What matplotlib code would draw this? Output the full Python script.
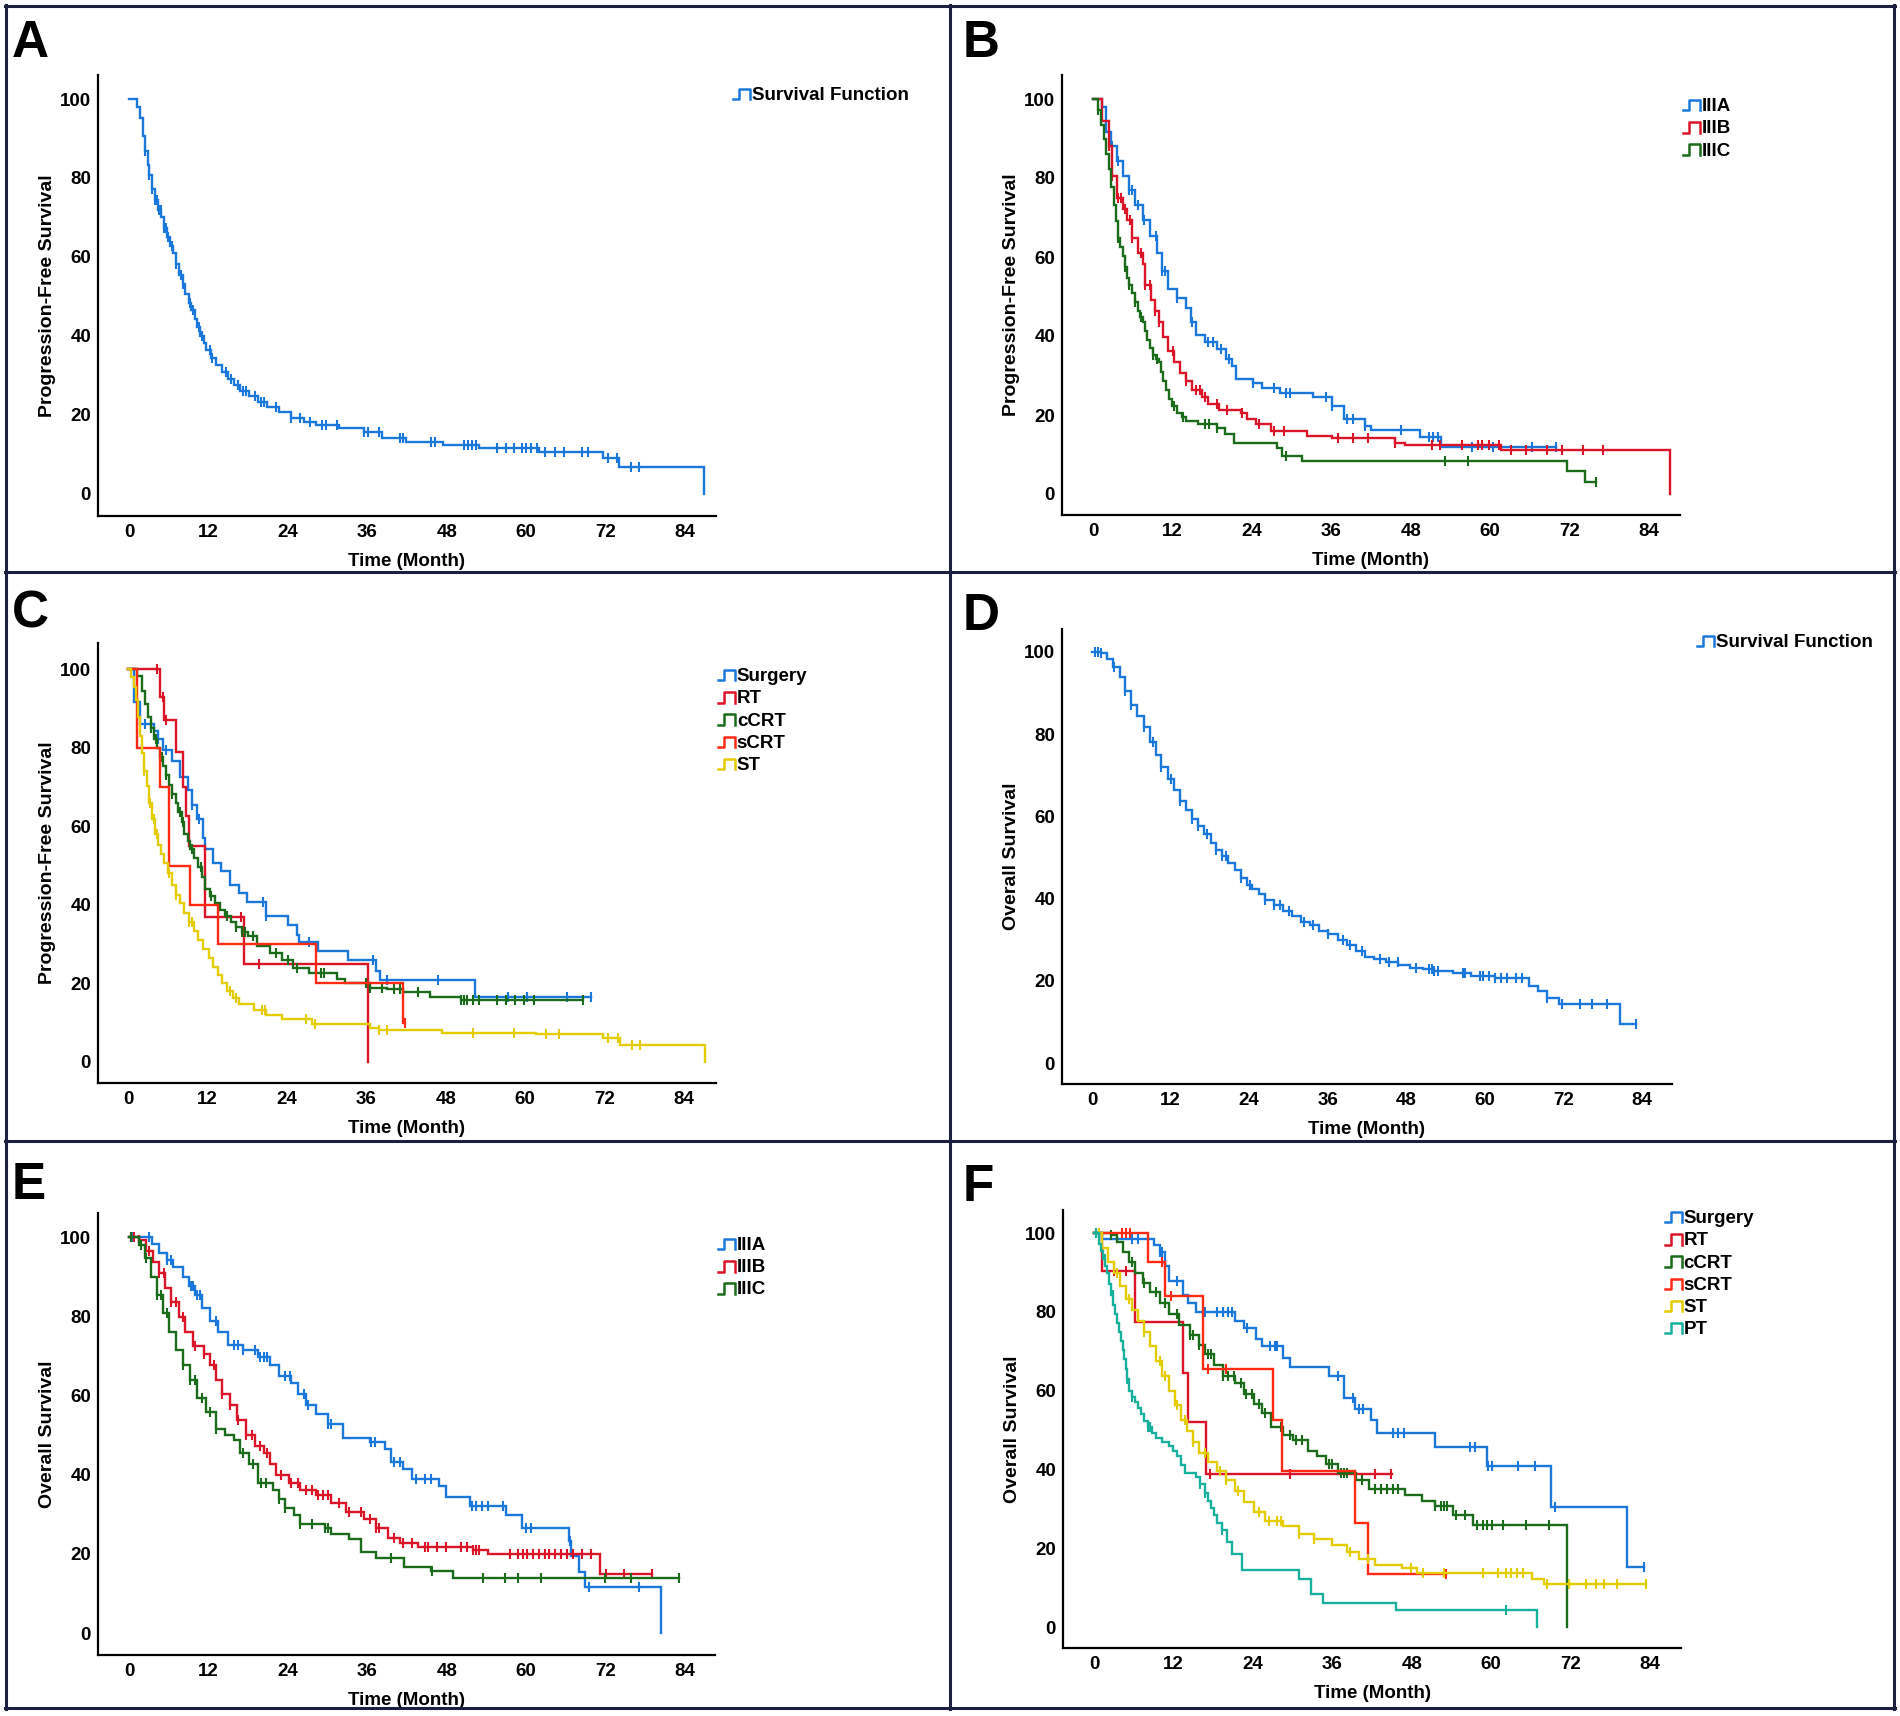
import numpy as np
import matplotlib
matplotlib.use("Agg")
import matplotlib.pyplot as plt
from matplotlib.lines import Line2D
from matplotlib.legend_handler import HandlerBase

plt.rcParams['font.family'] = ['Liberation Sans', 'DejaVu Sans']
plt.rcParams['font.weight'] = 'bold'

W, H = 1900, 1716

# ---------------- DATA ----------------
XTICKS = [0, 12, 24, 36, 48, 60, 72, 84]
YTICKS = [0, 20, 40, 60, 80, 100]

# Panel A  (PFS, all patients)
A_T = [0, 1.2, 1.7, 2.1, 2.4, 2.8, 3.0, 3.5, 3.9, 4.4, 4.9, 5.3, 5.8, 6.2, 6.7, 7.1, 7.6, 8.1, 8.5, 9.0,
       9.4, 9.9, 10.3, 10.8, 11.3, 11.7, 12.4, 13.1, 14.0, 14.9, 15.8, 16.7, 18.1, 19.5, 20.9, 22.7, 24.5,
       26.4, 28.2, 31.8, 35.5, 38.2, 41.9, 47.4, 52.9, 62.0, 71.6, 74.1, 86.9]
A_S = [100, 98.0, 95.2, 90.6, 86.9, 83.2, 80.8, 77.1, 74.4, 72.0, 70.2, 67.4, 65.1, 62.8, 60.9, 58.2, 55.4,
       53.1, 50.7, 48.4, 46.6, 44.3, 42.4, 40.1, 38.2, 36.4, 34.5, 32.7, 30.8, 29.0, 27.6, 26.2, 24.8, 23.4,
       22.0, 20.7, 19.3, 18.3, 17.4, 16.7, 15.6, 14.2, 13.2, 12.3, 11.7, 10.7, 9.1, 6.9, 0]
A_C = [2.4, 3.0, 3.5, 3.9, 4.2, 4.6, 4.8, 5.3, 5.6, 5.9, 6.5, 7.1, 7.8, 8.1, 9.2, 9.7, 10.6, 11.0, 12.2, 12.6,
       14.6, 15.4, 16.5, 17.2, 17.7, 19.0, 19.9, 20.4, 22.2, 24.5, 25.9, 27.3, 29.1, 29.8, 31.4, 35.5, 36.1,
       37.8, 41.0, 41.4, 45.6, 46.3, 50.6, 51.2, 51.8, 52.4, 55.6, 57.0, 58.2, 59.3, 60.0, 60.7, 61.6, 62.9,
       64.3, 65.7, 68.4, 69.4, 72.4, 73.7, 75.8, 77.0]

# Panel B  (PFS by stage)
B_IIIA_T = [0, 1.3, 2.0, 2.7, 3.6, 4.5, 5.4, 6.3, 7.5, 8.6, 9.7, 10.4, 11.4, 12.7, 14.1, 14.8, 15.5, 16.9,
            18.7, 20.1, 21.0, 21.6, 24.2, 25.6, 28.3, 33.3, 36.1, 37.9, 41.1, 42.0, 49.4, 52.6, 70.0]
B_IIIA_S = [100, 98.1, 91.7, 88.0, 84.3, 80.6, 76.9, 73.1, 69.4, 65.3, 61.1, 56.5, 51.9, 49.5, 47.2, 43.5,
            40.3, 38.4, 36.6, 34.3, 32.4, 29.2, 28.2, 26.9, 25.5, 24.5, 22.2, 19.0, 17.1, 16.2, 14.4, 12.0, 12.0]
B_IIIA_C = [2.9, 3.8, 5.4, 5.9, 6.8, 7.7, 9.5, 10.4, 10.9, 12.7, 15.0, 17.3, 18.2, 19.4, 20.5, 24.2, 27.4,
            29.2, 29.7, 35.2, 36.1, 38.4, 39.3, 41.1, 46.6, 50.7, 51.4, 52.1, 57.2, 60.4, 66.3, 70.0]
B_IIIB_T = [0, 1.3, 2.4, 2.9, 3.6, 4.5, 5.2, 5.9, 6.8, 7.5, 7.9, 8.8, 9.3, 10.0, 10.6, 11.4, 12.3, 13.2,
            14.1, 15.0, 16.4, 17.3, 19.1, 22.3, 23.3, 24.6, 26.9, 32.4, 36.1, 45.7, 47.1, 61.7, 87.2]
B_IIIB_S = [100, 94.4, 88.0, 80.6, 75.0, 72.2, 69.4, 64.8, 61.1, 58.3, 52.8, 49.1, 46.3, 43.5, 39.8, 36.1,
            33.3, 30.6, 28.7, 26.4, 24.5, 22.7, 21.3, 20.4, 19.0, 17.6, 15.9, 14.8, 14.1, 12.8, 12.5, 11.1, 0]
B_IIIB_C = [2.4, 2.9, 3.8, 4.3, 4.9, 5.6, 5.9, 7.2, 7.9, 8.6, 9.3, 10.0, 12.1, 14.1, 15.5, 16.1, 16.9, 18.7,
            20.3, 22.5, 25.1, 27.4, 28.9, 37.0, 39.3, 41.6, 45.7, 51.2, 52.4, 55.8, 58.1, 58.8, 59.9, 61.3,
            63.1, 65.4, 68.6, 70.9, 74.1, 77.1]
B_IIIC_T = [0, 0.8, 1.2, 1.7, 2.0, 2.4, 2.7, 3.1, 3.4, 3.8, 4.1, 4.5, 4.8, 5.1, 5.5, 5.9, 6.3, 6.8, 7.1, 7.5,
            7.8, 8.2, 8.6, 9.1, 9.5, 10.0, 10.3, 10.6, 11.0, 11.5, 12.0, 12.7, 13.4, 14.1, 15.9, 18.7, 20.0,
            21.3, 27.8, 28.6, 31.5, 71.6, 74.4, 76.0]
B_IIIC_S = [100, 97.2, 93.5, 89.8, 86.0, 82.4, 77.8, 73.1, 69.0, 64.8, 62.5, 60.2, 57.4, 54.6, 52.8, 50.9,
            48.6, 46.3, 44.9, 43.5, 41.2, 38.9, 37.0, 35.2, 34.2, 33.3, 31.0, 28.7, 26.4, 24.1, 22.2, 20.4,
            19.4, 18.5, 17.6, 16.7, 15.3, 13.0, 11.6, 9.7, 8.3, 5.8, 3.0, 3.0]
B_IIIC_C = [0.8, 3.8, 4.8, 5.5, 6.3, 7.2, 9.1, 9.7, 12.3, 13.6, 16.9, 17.6, 18.7, 29.2, 53.2, 56.7, 76.0]

# Panel C  (PFS by treatment)
C_SUR_T = [0, 0.9, 1.8, 3.9, 4.6, 5.3, 6.7, 7.9, 9.0, 9.7, 10.4, 11.3, 11.7, 12.8, 14.0, 15.4, 16.8, 18.0,
           20.9, 24.1, 25.5, 25.9, 28.7, 33.3, 37.4, 38.1, 52.5, 70.0]
C_SUR_S = [100, 91.6, 86.0, 84.2, 82.3, 79.5, 76.7, 72.5, 69.2, 65.5, 61.8, 57.1, 54.3, 50.6, 48.7, 45.0,
           43.1, 40.8, 37.1, 34.8, 32.4, 30.6, 28.2, 25.9, 23.1, 20.8, 16.6, 16.6]
C_SUR_C = [2.6, 4.6, 5.8, 9.7, 10.8, 20.4, 20.9, 27.3, 37.0, 39.2, 46.8, 57.4, 60.3, 66.3, 70.0]
C_RT_T = [0, 4.9, 5.5, 7.2, 8.3, 8.8, 9.2, 11.7, 17.6, 36.3]
C_RT_S = [100, 93.0, 87.0, 79.0, 70.0, 62.5, 55.0, 37.0, 25.0, 0]
C_RT_C = [4.4, 5.3, 5.8, 17.1, 19.8]
C_SCRT_T = [0, 1.3, 4.9, 6.2, 9.4, 13.6, 28.4, 41.6, 41.8]
C_SCRT_S = [100, 80.0, 70.0, 50.0, 40.0, 30.0, 20.0, 10.0, 10.0]
C_SCRT_C = [41.8]
C_CCRT_T = [0, 1.3, 2.1, 2.6, 3.0, 3.5, 3.9, 4.4, 4.9, 5.3, 5.8, 6.2, 6.7, 7.2, 7.6, 8.1, 8.5, 9.0, 9.4, 10.0,
            10.6, 11.2, 11.7, 12.4, 13.1, 13.9, 14.7, 15.5, 16.3, 17.2, 18.2, 19.5, 21.4, 23.2, 25.0, 27.3,
            31.5, 32.8, 36.5, 39.2, 41.5, 45.7, 50.3, 68.8]
C_CCRT_S = [100, 98.1, 94.4, 91.0, 87.9, 85.0, 82.3, 80.0, 77.6, 75.3, 73.0, 70.6, 68.3, 66.0, 63.7, 61.0,
            58.1, 56.2, 54.3, 52.0, 49.7, 47.0, 44.1, 42.2, 40.4, 38.7, 37.1, 35.7, 34.3, 33.1, 32.0, 29.6,
            27.8, 25.9, 24.0, 22.6, 21.2, 20.0, 18.9, 18.5, 17.7, 16.6, 15.8, 15.8]
C_CCRT_C = [3.5, 4.2, 5.1, 5.8, 6.7, 7.9, 8.3, 9.7, 11.0, 12.5, 14.9, 16.3, 17.2, 17.7, 18.9, 22.3, 24.1,
            25.5, 29.2, 29.6, 36.0, 36.5, 38.3, 40.2, 41.1, 41.5, 43.8, 50.3, 50.7, 51.2, 52.1, 53.0, 55.8,
            57.1, 58.5, 59.9, 61.3, 68.8]
C_ST_T = [0, 0.5, 0.9, 1.2, 1.5, 1.8, 2.1, 2.4, 2.8, 3.2, 3.7, 4.1, 4.6, 5.0, 5.5, 6.1, 6.7, 7.3, 7.9, 8.5,
          9.2, 9.9, 10.6, 11.4, 12.2, 12.9, 13.6, 14.2, 14.9, 15.8, 16.8, 19.1, 20.9, 23.2, 27.8, 36.5, 37.9,
          47.5, 61.7, 71.8, 74.3, 87.1]
C_ST_S = [100, 98.0, 95.3, 92.0, 87.9, 83.0, 78.6, 74.0, 70.2, 66.0, 61.8, 58.0, 55.3, 53.0, 50.6, 48.0,
          45.0, 42.5, 40.4, 38.0, 35.7, 33.3, 31.0, 28.7, 26.4, 24.3, 22.2, 20.0, 18.0, 16.3, 14.7, 13.3,
          11.9, 11.0, 9.6, 8.7, 8.2, 7.5, 7.0, 6.1, 4.3, 0]
C_ST_C = [2.4, 3.3, 3.9, 4.4, 6.2, 7.3, 9.2, 9.7, 15.4, 16.3, 20.2, 20.7, 26.9, 28.2, 37.9, 39.2, 52.1,
          58.3, 63.1, 65.1, 72.5, 74.1, 76.1, 77.3]

# Panel D  (OS, all patients)
D_T = [0, 1.4, 2.3, 3.2, 4.2, 5.1, 6.0, 6.9, 7.9, 8.8, 9.7, 10.6, 11.6, 12.5, 13.4, 14.4, 15.3, 16.2, 17.1,
       18.1, 19.0, 19.9, 20.8, 21.8, 22.7, 23.6, 24.5, 25.5, 26.4, 27.8, 29.2, 30.6, 31.9, 33.3, 34.7, 36.1,
       37.5, 38.9, 40.3, 41.7, 43.1, 44.9, 46.8, 48.6, 50.5, 52.3, 55.1, 57.9, 61.6, 66.7, 68.1, 69.5, 71.3,
       80.6, 83.1]
D_S = [100, 99.7, 98.2, 96.4, 93.8, 90.6, 87.1, 84.4, 81.7, 78.1, 75.0, 71.9, 69.2, 66.5, 63.8, 61.6, 59.4,
       57.6, 55.8, 53.6, 51.8, 50.4, 48.7, 46.9, 45.1, 43.3, 42.4, 41.1, 39.7, 38.4, 37.1, 35.7, 34.4, 33.5,
       32.1, 31.3, 29.9, 28.6, 27.2, 25.9, 25.3, 24.6, 23.8, 23.2, 22.8, 22.3, 21.9, 21.2, 20.8, 18.8, 17.4,
       15.8, 14.3, 9.6, 9.6]
D_C = [0.5, 0.9, 1.4, 3.4, 5.1, 6.0, 7.9, 9.3, 10.6, 12.0, 13.4, 15.3, 16.2, 17.6, 19.0, 19.9, 20.4, 22.7,
       24.1, 26.4, 27.8, 28.7, 30.1, 32.4, 33.8, 36.1, 38.4, 39.4, 41.2, 44.0, 45.4, 46.7, 49.5, 51.4, 51.9,
       52.3, 52.8, 56.6, 57.0, 59.3, 59.7, 60.7, 61.6, 62.5, 63.4, 64.8, 65.7, 69.5, 71.8, 74.5, 76.4, 78.7,
       83.1]

# Panel E  (OS by stage)
E_IIIA_T = [0, 3.5, 4.6, 5.8, 6.7, 8.1, 9.0, 9.9, 11.0, 12.2, 13.4, 14.9, 17.2, 19.5, 21.3, 22.7, 24.5, 25.6,
            26.8, 28.2, 30.0, 32.3, 36.4, 38.7, 39.6, 41.4, 42.8, 46.9, 47.9, 51.5, 57.0, 59.3, 66.4, 66.8,
            68.0, 68.9, 80.3]
E_IIIA_S = [100, 98.3, 96.0, 94.2, 92.3, 90.0, 87.7, 85.3, 82.1, 78.8, 76.1, 72.8, 71.4, 69.6, 67.7, 64.9,
            63.1, 60.3, 57.5, 55.2, 52.9, 49.2, 48.2, 46.4, 43.1, 41.3, 39.0, 37.1, 34.3, 32.0, 29.7, 26.4,
            23.2, 19.5, 15.3, 11.6, 0]
E_IIIA_C = [0.3, 0.6, 3.0, 5.8, 6.4, 9.4, 9.7, 10.3, 10.8, 13.1, 15.8, 16.5, 17.2, 19.0, 19.8, 20.4, 20.9,
            23.6, 24.3, 26.4, 27.1, 30.0, 30.5, 36.6, 37.1, 40.1, 41.0, 43.3, 44.7, 45.6, 51.8, 52.4, 53.3,
            54.3, 56.5, 60.0, 60.7, 66.6, 69.5, 77.1]
E_IIIB_T = [0, 1.5, 2.6, 3.7, 4.6, 5.5, 6.4, 7.6, 8.5, 9.7, 11.3, 12.2, 13.1, 14.0, 15.2, 16.3, 17.7, 19.0,
            20.4, 21.3, 22.2, 24.1, 25.9, 28.2, 30.5, 32.8, 35.5, 37.3, 39.2, 41.0, 43.7, 52.0, 54.3, 71.2, 79.0]
E_IIIB_S = [100, 99.3, 96.5, 93.7, 90.9, 87.2, 83.5, 79.8, 76.1, 72.4, 70.5, 67.7, 64.0, 60.3, 57.5, 53.8,
            50.1, 47.3, 45.5, 42.7, 39.9, 38.0, 36.2, 34.8, 32.9, 30.6, 28.8, 26.4, 24.1, 22.7, 21.8, 20.9,
            19.9, 14.8, 14.8]
E_IIIB_C = [0.3, 0.7, 1.5, 3.0, 4.6, 5.3, 6.4, 7.1, 8.1, 9.9, 11.3, 12.8, 14.0, 15.2, 16.5, 17.7, 18.6, 19.8,
            20.9, 22.9, 24.5, 25.6, 26.8, 27.7, 28.6, 29.3, 30.0, 31.8, 33.2, 35.0, 36.4, 37.3, 37.8, 40.1,
            41.4, 42.8, 44.7, 45.1, 46.5, 47.9, 50.1, 51.1, 52.0, 52.4, 52.9, 57.5, 58.8, 59.5, 60.2, 61.1,
            62.0, 62.8, 63.4, 64.3, 65.2, 66.2, 67.1, 68.4, 69.8, 72.1, 74.8, 79.0]
E_IIIC_T = [0, 1.5, 2.4, 3.3, 4.2, 5.1, 6.0, 7.1, 8.1, 9.2, 10.3, 11.7, 13.1, 14.5, 15.8, 16.7, 18.1, 19.5,
            21.8, 22.7, 23.6, 25.0, 25.9, 29.6, 30.5, 33.2, 35.0, 37.3, 41.5, 45.6, 49.0, 83.1]
E_IIIC_S = [100, 97.9, 94.6, 90.0, 85.3, 80.7, 76.1, 71.4, 67.7, 64.0, 59.4, 55.7, 51.5, 50.1, 48.7, 45.5,
            42.7, 38.0, 36.2, 33.9, 31.5, 29.7, 27.4, 26.4, 25.0, 23.7, 20.4, 19.0, 16.7, 15.6, 13.9, 13.9]
E_IIIC_C = [0.3, 1.8, 2.6, 4.2, 4.8, 5.8, 8.1, 9.2, 9.9, 11.0, 12.2, 13.1, 17.2, 18.8, 19.9, 20.7, 22.7,
            23.6, 25.9, 27.7, 29.6, 30.0, 39.6, 45.8, 53.5, 56.8, 58.8, 62.2, 71.9, 75.9, 83.1]

# Panel F  (OS by treatment)
F_SUR_T = [0, 1.2, 9.0, 9.9, 10.8, 11.4, 13.5, 14.2, 15.4, 21.3, 22.7, 24.5, 25.4, 28.6, 29.6, 35.5, 37.8,
           39.4, 41.9, 42.8, 51.5, 59.3, 69.1, 80.5, 83.1]
F_SUR_S = [100, 98.6, 97.0, 95.3, 91.6, 87.9, 84.2, 82.3, 80.0, 77.7, 75.8, 73.0, 71.2, 68.4, 66.0, 63.7,
           58.1, 55.3, 52.6, 49.3, 45.6, 40.9, 30.4, 15.3, 15.3]
F_SUR_C = [0.3, 5.8, 6.7, 9.9, 10.3, 12.6, 16.7, 18.6, 19.5, 20.2, 20.9, 23.1, 26.6, 27.3, 27.7, 36.9, 39.2,
           40.1, 40.7, 45.1, 46.0, 46.9, 56.8, 57.5, 59.6, 60.2, 64.1, 66.6, 69.6, 83.1]
F_RT_T = [0, 1.2, 6.2, 13.5, 14.2, 16.9, 45.0]
F_RT_S = [100, 90.3, 77.5, 64.5, 52.0, 38.8, 38.8]
F_RT_C = [3.0, 4.8, 17.5, 29.6, 42.4, 44.9]
F_SCRT_T = [0, 8.1, 10.8, 16.5, 27.0, 28.4, 39.4, 41.4, 53.2]
F_SCRT_S = [100, 92.6, 84.0, 65.6, 52.6, 39.5, 26.5, 13.5, 13.5]
F_SCRT_C = [4.2, 4.8, 5.5, 10.3, 11.7, 17.2, 19.9, 53.2]
F_CCRT_T = [0, 2.6, 3.5, 4.4, 5.3, 6.2, 7.4, 8.5, 9.9, 11.3, 12.9, 14.5, 15.8, 16.7, 18.1, 19.5, 21.3, 22.7,
            24.1, 25.4, 26.8, 28.6, 30.0, 32.3, 33.7, 35.1, 36.9, 39.6, 41.5, 47.0, 49.5, 51.5, 54.3, 57.2, 71.5]
F_CCRT_S = [100, 99.5, 97.7, 95.3, 92.6, 89.8, 87.4, 85.1, 82.3, 79.5, 76.7, 74.0, 71.6, 69.3, 66.5, 63.7,
            61.9, 59.1, 56.7, 54.4, 50.7, 48.8, 47.4, 44.7, 43.3, 41.4, 39.1, 37.2, 34.9, 33.5, 32.1, 30.7,
            28.4, 25.8, 0]
F_CCRT_C = [0.3, 2.6, 5.8, 7.6, 9.4, 10.8, 12.6, 14.5, 14.9, 15.8, 17.2, 17.7, 19.5, 20.2, 21.1, 22.2, 23.0,
            23.9, 25.0, 25.9, 28.2, 29.6, 30.5, 31.4, 35.5, 36.0, 37.3, 37.8, 38.2, 40.5, 42.4, 43.3, 44.2,
            45.1, 46.0, 51.5, 52.4, 52.9, 53.3, 54.7, 56.1, 57.9, 58.7, 59.3, 60.2, 61.8, 65.2, 68.7]
F_ST_T = [0, 1.2, 2.1, 3.0, 3.9, 4.8, 5.8, 6.7, 7.6, 8.5, 9.4, 10.3, 11.3, 12.2, 13.1, 14.0, 14.9, 15.8, 17.2,
          18.6, 20.0, 21.3, 22.7, 24.1, 25.9, 28.6, 30.9, 33.2, 36.0, 38.2, 40.1, 42.4, 46.5, 48.8, 66.2,
          68.0, 83.4]
F_ST_S = [100, 96.3, 92.6, 89.8, 86.5, 83.3, 80.5, 77.7, 74.9, 71.2, 67.4, 63.7, 60.0, 56.3, 52.6, 49.8,
          47.0, 44.2, 41.9, 39.5, 37.2, 34.4, 31.6, 29.3, 27.0, 25.6, 23.7, 22.3, 20.9, 19.1, 17.2, 15.8,
          14.9, 13.7, 12.1, 11.0, 11.0]
F_ST_C = [0.7, 3.5, 5.3, 7.6, 9.9, 10.8, 12.6, 13.7, 14.9, 16.7, 19.0, 20.0, 21.8, 25.0, 26.4, 27.7, 28.2,
          30.9, 33.2, 38.7, 41.4, 47.9, 49.7, 52.9, 58.8, 61.1, 62.3, 63.0, 63.9, 64.8, 68.4, 71.8, 74.4,
          75.8, 77.1, 79.0, 83.4]
F_PT_T = [0, 0.7, 1.0, 1.4, 1.7, 1.9, 2.3, 2.6, 2.9, 3.2, 3.5, 3.8, 4.1, 4.4, 4.6, 4.8, 5.0, 5.3, 5.7, 6.2,
          6.6, 7.1, 7.6, 8.1, 8.7, 9.4, 10.3, 11.3, 12.0, 12.6, 13.2, 13.8, 15.4, 16.0, 16.7, 17.2, 17.7,
          18.1, 18.6, 19.3, 20.1, 20.9, 22.4, 30.9, 32.8, 34.6, 45.6, 66.9]
F_PT_S = [100, 97.2, 95.5, 93.5, 91.5, 89.8, 87.0, 84.2, 81.8, 79.5, 77.2, 74.9, 72.5, 70.2, 68.0, 65.6,
          63.0, 60.0, 58.5, 57.2, 55.5, 54.0, 52.3, 50.7, 49.3, 47.9, 47.0, 46.0, 44.6, 43.3, 41.2, 39.1,
          38.1, 36.3, 34.0, 32.0, 30.2, 28.3, 26.5, 24.7, 21.5, 18.6, 14.4, 12.1, 8.4, 6.2, 4.4, 0]
F_PT_C = [0.3, 1.6, 2.8, 5.0, 5.8, 8.1, 8.5, 16.0, 16.7, 19.3, 62.3]

# ---------------- STYLE ----------------
BLUE = '#1a78dc'
RED = '#dc1428'
SRED = '#ff2a14'
GREEN = '#1a6b1a'
YELLOW = '#e3cc00'
TEAL = '#17b09c'
BORDER = '#1c1f40'
FS = 13.5

fig = plt.figure(figsize=(W / 100, H / 100), dpi=100)


class StepHandler(HandlerBase):
    def create_artists(self, legend, orig_handle, xdescent, ydescent, width, height, fontsize, trans):
        x0, y0 = -xdescent, -ydescent
        xs = [x0, x0 + 0.38 * width, x0 + 0.38 * width, x0 + width, x0 + width]
        ys = [y0 + 0.05 * height, y0 + 0.05 * height, y0 + 0.85 * height, y0 + 0.85 * height, y0 + 0.05 * height]
        ln = Line2D(xs, ys, color=orig_handle.get_color(), lw=1.8, transform=trans)
        return [ln]


def step_val(T, S, t):
    i = np.searchsorted(np.asarray(T), t, side='right') - 1
    return np.asarray(S)[i]


def panel(rect_px, xzero, xpm, yhundred, yzero, ylabel, curves, leg_xy, letter, letter_xy):
    l, r, t, b = rect_px
    ax = fig.add_axes([l / W, 1 - b / H, (r - l) / W, (b - t) / H])
    ppu = (yzero - yhundred) / 100.0
    ax.set_xlim((l - xzero) / xpm, (r - xzero) / xpm)
    ax.set_ylim((yzero - b) / ppu, (yzero - t) / ppu)
    handles, labels = [], []
    for name, T, S, C, col in curves:
        ax.step(T, S, where='post', color=col, lw=1.7, solid_joinstyle='miter')
        cy = [step_val(T, S, c) for c in C]
        ax.plot(C, cy, ls='none', marker='|', ms=7, mew=1.5, color=col)
        handles.append(Line2D([], [], color=col))
        labels.append(name)
    for s in ['top', 'right']:
        ax.spines[s].set_visible(False)
    for s in ['left', 'bottom']:
        ax.spines[s].set_linewidth(1.6)
        ax.spines[s].set_color('black')
    ax.set_xticks(XTICKS)
    ax.set_yticks(YTICKS)
    ax.tick_params(axis='x', length=0, labelsize=FS, pad=6)
    ax.tick_params(axis='y', length=0, labelsize=FS, pad=5)
    for lab in ax.get_xticklabels() + ax.get_yticklabels():
        lab.set_fontweight('bold')
    ax.set_xlabel('Time (Month)', fontsize=FS, fontweight='bold', labelpad=8.5)
    ax.set_ylabel(ylabel, fontsize=FS + 0.5, fontweight='bold', labelpad=2.5)
    ax.patch.set_alpha(0)
    lx, ly = leg_xy
    ax.legend(handles, labels, loc='upper left', bbox_to_anchor=(lx / W, 1 - (ly - 6) / H),
              bbox_transform=fig.transFigure, frameon=False, borderpad=0, borderaxespad=0,
              handlelength=0.9, handleheight=0.7, handletextpad=0.1, labelspacing=0.27,
              prop={'size': FS, 'weight': 'bold'}, handler_map={Line2D: StepHandler()})
    fig.text(letter_xy[0] / W, 1 - letter_xy[1] / H, letter, fontsize=37, fontweight='bold',
             va='baseline', ha='left')
    return ax


panel((98, 716, 75, 516), 129, 556 / 84, 99, 494, 'Progression-Free Survival',
      [('Survival Function', A_T, A_S, A_C, BLUE)], (733, 93), 'A', (12, 57))
panel((1062, 1680, 75, 515), 1093, 556 / 84, 99, 494, 'Progression-Free Survival',
      [('IIIA', B_IIIA_T, B_IIIA_S, B_IIIA_C, BLUE),
       ('IIIB', B_IIIB_T, B_IIIB_S, B_IIIB_C, RED),
       ('IIIC', B_IIIC_T, B_IIIC_S, B_IIIC_C, GREEN)], (1683, 104), 'B', (963, 57))
panel((98, 716, 643, 1083), 128, 556 / 84, 669, 1062, 'Progression-Free Survival',
      [('Surgery', C_SUR_T, C_SUR_S, C_SUR_C, BLUE),
       ('RT', C_RT_T, C_RT_S, C_RT_C, RED),
       ('cCRT', C_CCRT_T, C_CCRT_S, C_CCRT_C, GREEN),
       ('sCRT', C_SCRT_T, C_SCRT_S, C_SCRT_C, SRED),
       ('ST', C_ST_T, C_ST_S, C_ST_C, YELLOW)], (718, 674), 'C', (12, 628))
panel((1062, 1672, 629, 1084), 1092, 550 / 84, 652, 1063, 'Overall Survival',
      [('Survival Function', D_T, D_S, D_C, BLUE)], (1697, 640), 'D', (963, 630))
panel((98, 715, 1213, 1655), 129, 556 / 84, 1237, 1633, 'Overall Survival',
      [('IIIA', E_IIIA_T, E_IIIA_S, E_IIIA_C, BLUE),
       ('IIIB', E_IIIB_T, E_IIIB_S, E_IIIB_C, RED),
       ('IIIC', E_IIIC_T, E_IIIC_S, E_IIIC_C, GREEN)], (718, 1243), 'E', (12, 1199))
panel((1063, 1681, 1210, 1648), 1094, 556 / 84, 1233, 1627, 'Overall Survival',
      [('Surgery', F_SUR_T, F_SUR_S, F_SUR_C, BLUE),
       ('RT', F_RT_T, F_RT_S, F_RT_C, RED),
       ('cCRT', F_CCRT_T, F_CCRT_S, F_CCRT_C, GREEN),
       ('sCRT', F_SCRT_T, F_SCRT_S, F_SCRT_C, SRED),
       ('ST', F_ST_T, F_ST_S, F_ST_C, YELLOW),
       ('PT', F_PT_T, F_PT_S, F_PT_C, TEAL)], (1665, 1216), 'F', (963, 1201))

# panel borders
def hline(y, x0, x1):
    fig.add_artist(Line2D([x0 / W, x1 / W], [1 - y / H, 1 - y / H], transform=fig.transFigure,
                          color=BORDER, lw=2.2))

def vline(x, y0, y1):
    fig.add_artist(Line2D([x / W, x / W], [1 - y0 / H, 1 - y1 / H], transform=fig.transFigure,
                          color=BORDER, lw=2.2))

hline(6, 5, 1895)
hline(1708, 5, 1895)
hline(572, 5, 1895)
hline(1141, 5, 1895)
vline(6, 5, 1709)
vline(1894, 5, 1709)
vline(950, 5, 1709)

fig.savefig('out.png', dpi=100)
